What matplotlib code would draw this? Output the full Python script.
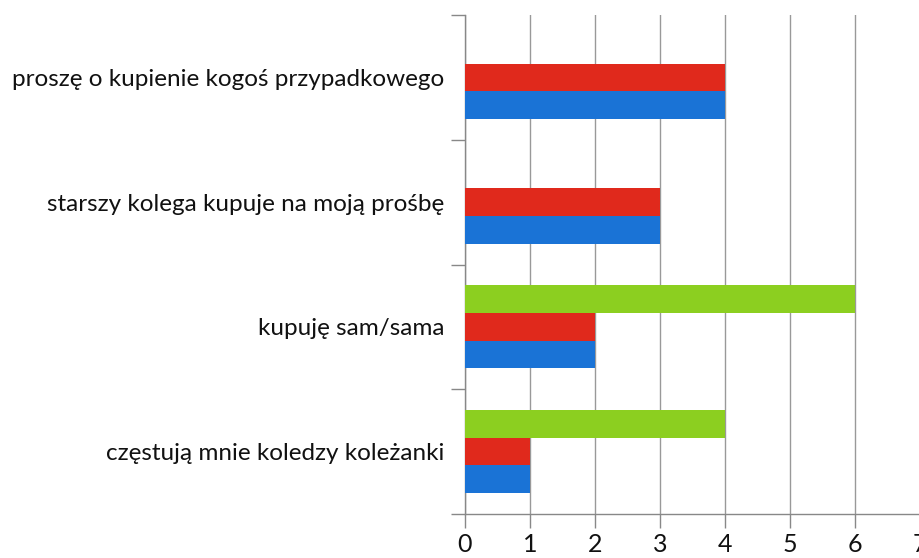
import matplotlib
matplotlib.use("Agg")
import matplotlib.pyplot as plt
import numpy as np

categories = ["częstują mnie koledzy koleżanki", "kupuję sam/sama",
              "starszy kolega kupuje na moją prośbę", "proszę o kupienie kogoś przypadkowego"]
blue_vals = [1, 2, 3, 4]
red_vals = [1, 2, 3, 4]
green_vals = [4, 6, 0, 0]
x_ticks = [0, 1, 2, 3, 4, 5, 6, 7]

plt.rcParams['font.family'] = ['Lato', 'DejaVu Sans']

fig = plt.figure(figsize=(9.19, 5.58), dpi=100)
ax = fig.add_axes([465 / 919, 1 - 514 / 558, 455 / 919, 499 / 558])

y = np.arange(len(categories))
h = 0.222
ax.barh(y - h, blue_vals, height=h, color="#1a73d6", zorder=3)
ax.barh(y, red_vals, height=h, color="#e0291c", zorder=3)
ax.barh(y + h, green_vals, height=h, color="#8ccf20", zorder=3)

ax.set_xlim(0, 7)
ax.set_ylim(-0.5, len(categories) - 0.5)
ax.set_xticks(x_ticks)
ax.set_xticklabels([str(t) for t in x_ticks], fontsize=18, color="#111111")
ax.set_yticks(y)
ax.set_yticklabels(categories, fontsize=17.5, color="#111111")
ax.tick_params(axis="y", length=0, pad=15)
ax.set_yticks(np.arange(-0.5, len(categories)), minor=True)
ax.tick_params(axis="y", which="minor", length=10, color="#888888", width=1)
ax.tick_params(axis="x", length=10, color="#888888", width=1, pad=4)

ax.grid(axis="x", color="#999999", linewidth=1, zorder=0)
for s in ["top", "right"]:
    ax.spines[s].set_visible(False)
for s in ["left", "bottom"]:
    ax.spines[s].set_color("#888888")
    ax.spines[s].set_linewidth(1)

fig.savefig("out.png", dpi=100)
